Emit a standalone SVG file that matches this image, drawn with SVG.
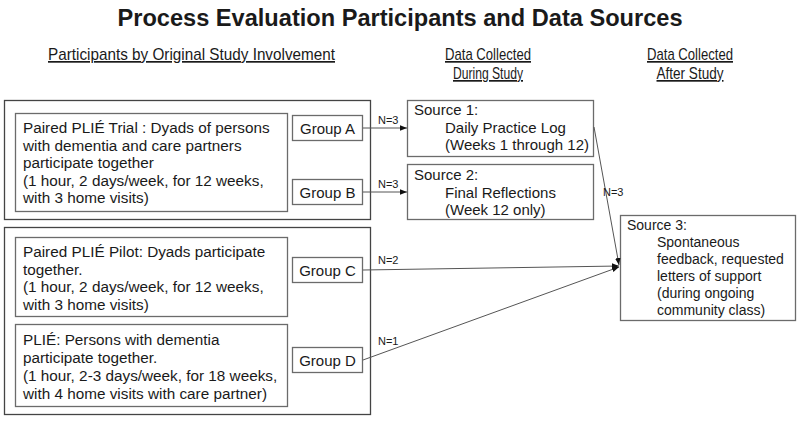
<svg xmlns="http://www.w3.org/2000/svg" width="800" height="422" viewBox="0 0 800 422">
<style>
text{font-family:"Liberation Sans",Arial,sans-serif;fill:#1a1a1a}
.t{font-size:15.3px}
.g{font-size:15px}
.t3{font-size:14px}
.s{font-size:11px}
.h{font-family:"Liberation Sans Narrow","Liberation Sans",Arial,sans-serif;font-size:17px;text-decoration:underline}
.ttl{font-family:"Liberation Sans Narrow","Liberation Sans",Arial,sans-serif;font-size:23px;font-weight:bold}
.outer{fill:#fff;stroke:#444;stroke-width:1.3}
.box{fill:#fff;stroke:#6b6b6b;stroke-width:1.3}
.c{fill:none;stroke:#555;stroke-width:1}
.m{text-anchor:middle}
</style>
<defs>
<marker id="ah" viewBox="0 0 10 10" refX="10" refY="5" markerWidth="7" markerHeight="7" markerUnits="userSpaceOnUse" orient="auto">
<path d="M0,1 L10,5 L0,9 z" fill="#111"/>
</marker>
</defs>
<rect width="800" height="422" fill="#fff"/>
<g id="headers">
<text class="ttl m" x="400" y="26" textLength="565" lengthAdjust="spacingAndGlyphs">Process Evaluation Participants and Data Sources</text>
<text class="h" x="48" y="60" textLength="287" lengthAdjust="spacingAndGlyphs">Participants by Original Study Involvement</text>
<text class="h m" x="488" y="60" textLength="86" lengthAdjust="spacingAndGlyphs">Data Collected</text>
<text class="h m" x="488" y="79" textLength="70" lengthAdjust="spacingAndGlyphs">During Study</text>
<text class="h m" x="690" y="60" textLength="86" lengthAdjust="spacingAndGlyphs">Data Collected</text>
<text class="h m" x="690" y="79" textLength="67" lengthAdjust="spacingAndGlyphs">After Study</text>
</g>
<g id="trial-frame">
<rect class="outer" x="4.5" y="100.5" width="366" height="119"/>
</g>
<g id="pilot-frame">
<rect class="outer" x="4.5" y="227.5" width="366" height="187"/>
</g>
<g id="trial">
<rect class="box" x="15.5" y="113.5" width="272" height="98"/>
<text class="t" x="23" y="133">Paired PLIÉ Trial : Dyads of persons</text>
<text class="t" x="23" y="150.5">with dementia and care partners</text>
<text class="t" x="23" y="168">participate together</text>
<text class="t" x="23" y="185.5">(1 hour, 2 days/week, for 12 weeks,</text>
<text class="t" x="23" y="203">with 3 home visits)</text>
</g>
<g id="pilot">
<rect class="box" x="15.5" y="237.5" width="272" height="79"/>
<text class="t" x="23" y="257">Paired PLIÉ Pilot: Dyads participate</text>
<text class="t" x="23" y="274.5">together.</text>
<text class="t" x="23" y="292">(1 hour, 2 days/week, for 12 weeks,</text>
<text class="t" x="23" y="309.5">with 3 home visits)</text>
</g>
<g id="plie">
<rect class="box" x="15.5" y="324.5" width="272" height="82"/>
<text class="t" x="23" y="345">PLIÉ: Persons with dementia</text>
<text class="t" x="23" y="363">participate together.</text>
<text class="t" x="23" y="381">(1 hour, 2-3 days/week, for 18 weeks,</text>
<text class="t" x="23" y="399">with 4 home visits with care partner)</text>
</g>
<g id="groupA">
<rect class="box" x="292.5" y="115.5" width="70" height="25"/>
<text class="g m" x="327.5" y="133.5">Group A</text>
</g>
<g id="groupB">
<rect class="box" x="292.5" y="179.5" width="70" height="25"/>
<text class="g m" x="327.5" y="197.5">Group B</text>
</g>
<g id="groupC">
<rect class="box" x="292.5" y="257.5" width="70" height="25"/>
<text class="g m" x="327.5" y="275.5">Group C</text>
</g>
<g id="groupD">
<rect class="box" x="292.5" y="347.5" width="70" height="25"/>
<text class="g m" x="327.5" y="365.5">Group D</text>
</g>
<g id="source1">
<rect class="box" x="407.5" y="100.5" width="186" height="56"/>
<text class="g" x="414" y="115">Source 1:</text>
<text class="g" x="445" y="132.5">Daily Practice Log</text>
<text class="g" x="445" y="150">(Weeks 1 through 12)</text>
</g>
<g id="source2">
<rect class="box" x="407.5" y="164.5" width="186" height="55"/>
<text class="g" x="414" y="180">Source 2:</text>
<text class="g" x="445" y="197.5">Final Reflections</text>
<text class="g" x="445" y="215">(Week 12 only)</text>
</g>
<g id="source3">
<rect class="box" x="620.5" y="215.5" width="175" height="105"/>
<text class="t3" x="627" y="230">Source 3:</text>
<text class="t3" x="657" y="247">Spontaneous</text>
<text class="t3" x="657" y="264">feedback, requested</text>
<text class="t3" x="657" y="281">letters of support</text>
<text class="t3" x="657" y="298">(during ongoing</text>
<text class="t3" x="657" y="315">community class)</text>
</g>
<g id="connectors">
<line class="c" x1="363" y1="128" x2="407" y2="128" marker-end="url(#ah)"/>
<text class="s" x="378" y="124">N=3</text>
<line class="c" x1="363" y1="192" x2="407" y2="192" marker-end="url(#ah)"/>
<text class="s" x="378" y="188">N=3</text>
<line class="c" x1="363" y1="270" x2="619" y2="266" marker-end="url(#ah)"/>
<text class="s" x="378" y="264">N=2</text>
<line class="c" x1="363" y1="360" x2="619" y2="267" marker-end="url(#ah)"/>
<text class="s" x="378" y="345">N=1</text>
<line class="c" x1="594" y1="127" x2="619" y2="265" marker-end="url(#ah)"/>
<text class="s" x="603" y="196">N=3</text>
</g>
</svg>
